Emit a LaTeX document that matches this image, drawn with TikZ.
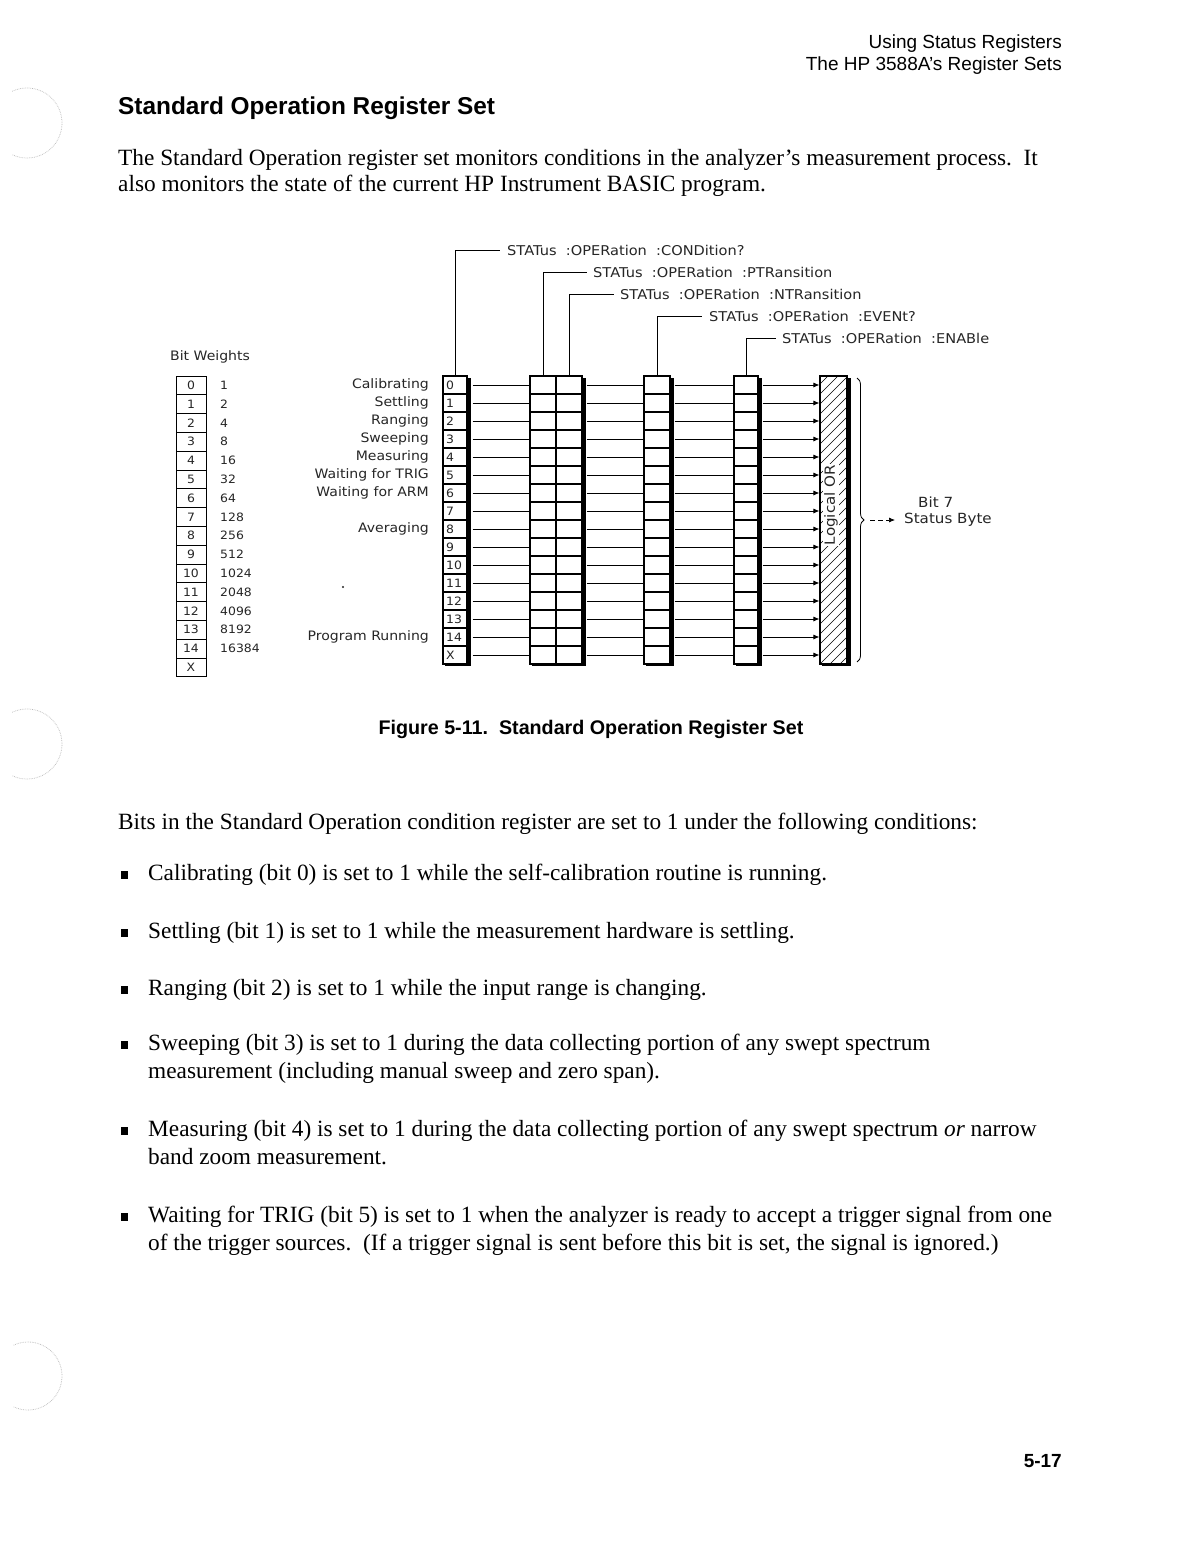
\documentclass[tikz,border=0pt]{standalone}
\usepackage{fontspec}
\setmainfont{Liberation Serif}
\newfontfamily\hsans{Liberation Sans}
\newfontfamily\plotfont[FakeStretch=1.08]{DejaVu Sans}
\usetikzlibrary{arrows.meta,decorations.pathreplacing}
\newcommand{\sqbul}[1]{\fill (121,#1-9) rectangle (128,#1-1);}
\begin{document}
\begin{tikzpicture}[x=1pt,y=-1pt,
  cell/.style={draw, line width=1.1pt, fill=white, minimum height=18pt, inner sep=0pt},
  conn/.style={line width=0.9pt},
  lead/.style={line width=0.7pt},
  plot/.style={font=\plotfont\fontsize{13}{15}\selectfont, inner sep=0pt, text=black!85},
  num/.style={font=\plotfont\fontsize{11.5}{13}\selectfont, inner sep=0pt, text=black!85},
  cmd/.style={font=\plotfont\fontsize{13.5}{15}\selectfont, inner sep=0pt, text=black!85, anchor=west},
  body/.style={font=\fontsize{23.3}{28}\selectfont, inner sep=0pt, anchor=base west},
  head/.style={font=\hsans\fontsize{19}{22}\selectfont, inner sep=0pt, anchor=base east},
  hole/.style={densely dotted, gray!55, line width=0.7pt},
  tip/.style={-{Latex[length=6pt,width=5pt]}}
]
\useasboundingbox (0,0) rectangle (1176,1544);
\fill[white] (0,0) rectangle (1176,1544);

% binder holes
\draw[hole] ([shift={(-115:35)}]27,123) arc[start angle=-115, end angle=115, radius=35];
\draw[hole] ([shift={(-115:35)}]27,744) arc[start angle=-115, end angle=115, radius=35];
\draw[hole] ([shift={(-115:34)}]28,1376) arc[start angle=-115, end angle=115, radius=34];

% header
\node[head] (h1) at (1062,49) {Using Status Registers};
\node[head] (h2) at (1062,71) {The HP 3588A’s Register Sets};
\node[font=\hsans\bfseries\fontsize{24.4}{28}\selectfont, anchor=base west, inner sep=0pt] (title) at (118,114) {Standard Operation Register Set};
\node[body] (p1) at (118,165) {The Standard Operation register set monitors conditions in the analyzer’s measurement process.\ \ It};
\node[body] (p2) at (118,191) {also monitors the state of the current HP Instrument BASIC program.};

% ---------- diagram ----------
% bit weights column
\node[plot, anchor=west] (bwt) at (170,357) {Bit Weights};
\foreach \i/\t/\w in {0/0/1,1/1/2,2/2/4,3/3/8,4/4/16,5/5/32,6/6/64,7/7/128,8/8/256,9/9/512,10/10/1024,11/11/2048,12/12/4096,13/13/8192,14/14/16384,15/X/{}} {
  \node[cell, line width=0.8pt, minimum width=30pt, minimum height=18.8pt] (bw-\i) at (191,385.4+18.8*\i) {};
  \node[num] (bwn-\i) at (bw-\i) {\t};
  \node[num, anchor=west] (wt-\i) at (220,385.4+18.8*\i) {\w};
}

% bit labels
\foreach \i/\t in {0/Calibrating,1/Settling,2/Ranging,3/Sweeping,4/Measuring,5/Waiting for TRIG,6/Waiting for ARM,8/Averaging,14/Program Running}
  \node[plot, anchor=east] (lab-\i) at (429,385+18*\i) {\t};
\fill[black!85] (343,587) circle (1.1);

% shadows
\foreach \l/\r in {443/467, 530/582, 644/670, 734/758, 820/847} {
  \fill[black] (\r,378) rectangle (\r+4,666);
  \fill[black] (\l+2,664) rectangle (\r+4,666);
}

% registers
\foreach \i/\t in {0/0,1/1,2/2,3/3,4/4,5/5,6/6,7/7,8/8,9/9,10/10,11/11,12/12,13/13,14/14,15/X} {
  \node[cell, minimum width=24pt] (cd-\i) at (455,385+18*\i) {};
  \node[num, anchor=west] (cdt-\i) at (446,385+18*\i) {\t};
  \node[cell, minimum width=26pt] (pt-\i) at (543,385+18*\i) {};
  \node[cell, minimum width=26pt] (nt-\i) at (569,385+18*\i) {};
  \node[cell, minimum width=26pt] (ev-\i) at (657,385+18*\i) {};
  \node[cell, minimum width=24pt] (en-\i) at (746,385+18*\i) {};
}

% logical OR
\fill[white] (820,376) rectangle (847,664);
\begin{scope}
  \clip (820,376) rectangle (847,664);
  \foreach \k in {-290,-280,...,30}
    \draw[line width=0.6pt] (820+\k,664) -- (820+\k+300,364);
\end{scope}
\node[draw, line width=1.1pt, minimum width=27pt, minimum height=288pt, inner sep=0pt] (or) at (833.5,520) {};
\node[plot, rotate=90, fill=white, inner sep=1pt, font=\plotfont\fontsize{14}{16}\selectfont] (ortext) at (831,505) {Logical OR};

% connectors between registers
\foreach \i in {0,...,15} {
  \draw[conn] ([xshift=5pt]cd-\i.east) -- (pt-\i.west);
  \draw[conn] ([xshift=4pt]nt-\i.east) -- (ev-\i.west);
  \draw[conn] ([xshift=4pt]ev-\i.east) -- (en-\i.west);
  \draw[conn, tip] ([xshift=4pt]en-\i.east) -- (en-\i.east -| or.west);
}

% command leaders
\node[cmd] (s1) at (507,250) {STATus\ \ :OPERation\ \ :CONDition?};
\node[cmd] (s2) at (593,272) {STATus\ \ :OPERation\ \ :PTRansition};
\node[cmd] (s3) at (620,294) {STATus\ \ :OPERation\ \ :NTRansition};
\node[cmd] (s4) at (709,316) {STATus\ \ :OPERation\ \ :EVENt?};
\node[cmd] (s5) at (782,338) {STATus\ \ :OPERation\ \ :ENABle};
\draw[lead] (cd-0.north) |- ([xshift=-7pt]s1.west);
\draw[lead] (pt-0.north) |- ([xshift=-6pt]s2.west);
\draw[lead] (nt-0.north) |- ([xshift=-6pt]s3.west);
\draw[lead] (ev-0.north) |- ([xshift=-7pt]s4.west);
\draw[lead] (en-0.north) |- ([xshift=-6pt]s5.west);

% brace and status byte
\coordinate (brt) at (857,378);
\coordinate (brb) at (857,662);
\draw[line width=0.8pt, decorate, decoration={brace, amplitude=7pt}] (brt) -- (brb);
\coordinate (brtip) at (870,520);
\node[plot, anchor=west, font=\plotfont\fontsize{14}{16}\selectfont] (b7) at (918,502) {Bit 7};
\node[plot, anchor=west, font=\plotfont\fontsize{14}{16}\selectfont] (sb) at (904,520) {Status Byte};
\draw[lead, tip, dash pattern=on 5pt off 3pt] (brtip) -- ([xshift=-9pt]sb.west);

% ---------- caption and text ----------
\node[font=\hsans\bfseries\fontsize{19.7}{22}\selectfont, anchor=base, inner sep=0pt] (cap) at (591,734) {Figure 5-11.\ \ Standard Operation Register Set};

\node[body] (t0) at (118,829) {Bits in the Standard Operation condition register are set to 1 under the following conditions:};

\sqbul{880}
\node[body] (t1) at (148,880) {Calibrating (bit 0) is set to 1 while the self-calibration routine is running.};
\sqbul{938}
\node[body] (t2) at (148,938) {Settling (bit 1) is set to 1 while the measurement hardware is settling.};
\sqbul{995}
\node[body] (t3) at (148,995) {Ranging (bit 2) is set to 1 while the input range is changing.};
\sqbul{1050}
\node[body] (t4a) at (148,1050) {Sweeping (bit 3) is set to 1 during the data collecting portion of any swept spectrum};
\node[body] (t4b) at (148,1078) {measurement (including manual sweep and zero span).};
\sqbul{1136}
\node[body] (t5a) at (148,1136) {Measuring (bit 4) is set to 1 during the data collecting portion of any swept spectrum \textit{or} narrow};
\node[body] (t5b) at (148,1164) {band zoom measurement.};
\sqbul{1222}
\node[body] (t6a) at (148,1222) {Waiting for TRIG (bit 5) is set to 1 when the analyzer is ready to accept a trigger signal from one};
\node[body] (t6b) at (148,1250) {of the trigger sources.\ \ (If a trigger signal is sent before this bit is set, the signal is ignored.)};

\node[font=\hsans\bfseries\fontsize{19}{22}\selectfont, anchor=base east, inner sep=0pt] (pg) at (1062,1467) {5-17};
\end{tikzpicture}
\end{document}
